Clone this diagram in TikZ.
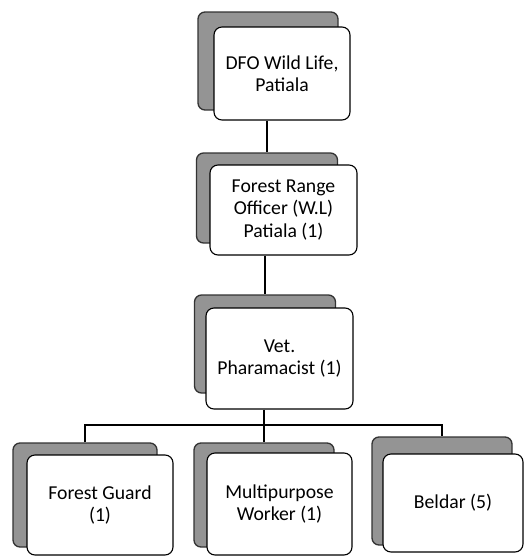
\documentclass[tikz,border=0pt]{standalone}
\usepackage{fontspec}
\setmainfont{Carlito}
\begin{document}
\begin{tikzpicture}[x=1pt,y=-1pt,
  shadowbox/.style={draw=black!80,line width=1.3pt,fill=black!42,rounded corners=7pt,inner sep=0pt},
  frontbox/.style={draw=black,line width=1.1pt,fill=white,rounded corners=8pt,inner sep=2pt,align=center,
    font=\fontsize{19.7}{22.5}\selectfont},
  link/.style={draw=black,line width=1.2pt}]
\useasboundingbox (0,0) rectangle (528,557);
% level 1
\node[shadowbox,minimum width=140pt,minimum height=98pt] (s1) at (268,61) {};
\node[frontbox,minimum width=136pt,minimum height=93pt] (f1) at (282,73.5) {DFO Wild Life,\\Patiala};
% level 2
\node[shadowbox,minimum width=141pt,minimum height=90pt] (s2) at (267,198) {};
\node[frontbox,minimum width=147pt,minimum height=90pt] (f2) at (283.5,210) {Forest Range\\Officer (W.L)\\Patiala (1)};
% level 3
\node[shadowbox,minimum width=141pt,minimum height=98pt] (s3) at (265,344) {};
\node[frontbox,minimum width=147pt,minimum height=101pt] (f3) at (279.5,358.5) {Vet.\\Pharamacist (1)};
% level 4
\node[shadowbox,minimum width=144pt,minimum height=104pt] (s4) at (85,495) {};
\node[frontbox,minimum width=146pt,minimum height=100pt] (f4) at (100,505) {Forest Guard\\(1)};
\node[shadowbox,minimum width=140pt,minimum height=104pt] (s5) at (264,495) {};
\node[frontbox,minimum width=145pt,minimum height=102pt] (f5) at (279.5,504) {Multipurpose\\Worker (1)};
\node[shadowbox,minimum width=140pt,minimum height=108pt] (s6) at (442,491) {};
\node[frontbox,minimum width=140pt,minimum height=98pt] (f6) at (453,503) {Beldar (5)};
% connectors
\coordinate (bus) at (0,425);
\draw[link] (f1.south -| s2.north) -- (s2.north);
\draw[link] (f2.south -| s3.north) -- (s3.north);
\draw[link] (f3.south -| s5.north) -- (bus -| s5.north) -- (s5.north);
\draw[link] (s4.north) -- (bus -| s4.north) -- (bus -| s6.north) -- (s6.north);
\end{tikzpicture}
\end{document}
